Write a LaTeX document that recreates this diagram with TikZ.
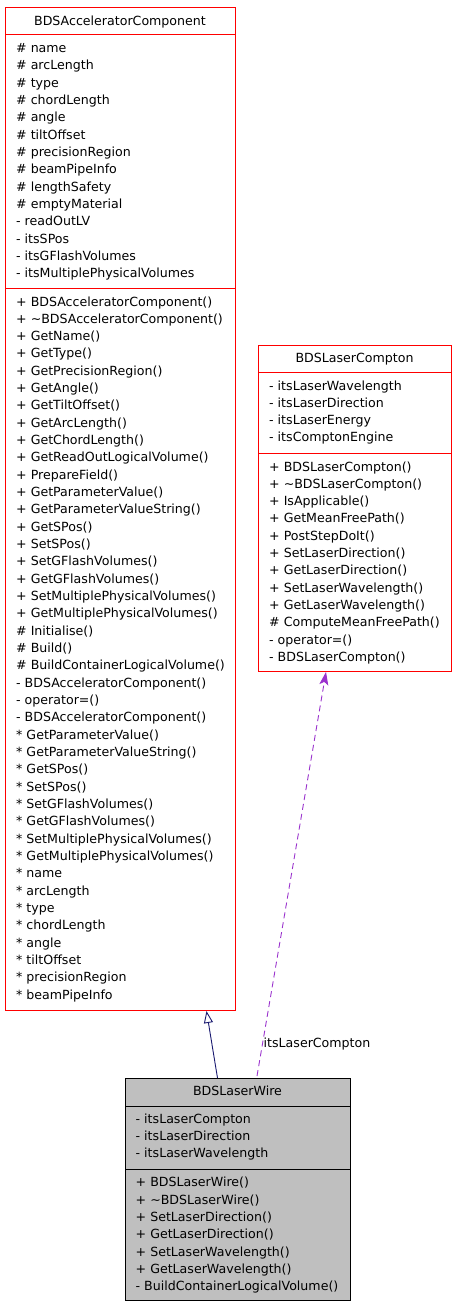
\documentclass[tikz,border=0pt]{standalone}
\usepackage{fontspec}
\setmainfont{DejaVu Sans}
\usetikzlibrary{arrows.meta,calc}
\definecolor{edgeblue}{HTML}{191970}
\definecolor{edgepurple}{HTML}{9A32CD}
\definecolor{wiregray}{HTML}{BFBFBF}
\begin{document}
\begin{tikzpicture}[x=1pt,y=-1pt,
  every node/.style={font=\fontsize{12.6}{15}\selectfont},
  member/.style={anchor=base west, inner sep=0pt},
  classtitle/.style={anchor=base, inner sep=0pt},
  redbox/.style={draw=red, line width=1pt, anchor=north west, inner sep=0pt},
  graybox/.style={draw=black, fill=wiregray, line width=1pt, anchor=north west, inner sep=0pt},
  redsep/.style={draw=red, line width=1pt},
  blacksep/.style={draw=black, line width=1pt},
  inherit/.style={draw=edgeblue, line width=0.9pt, -{Triangle[open,length=12pt,width=9pt]}},
  usage/.style={draw=edgepurple, line width=0.9pt, dash pattern=on 6pt off 4pt, -{Stealth[length=13pt,width=9pt,inset=3pt]}}
]
\useasboundingbox (0,0) rectangle (456,1307);

% ---------- BDSAcceleratorComponent ----------
\node[redbox, minimum width=230pt, minimum height=1003pt] (acc) at (5,7) {};
\draw[redsep] (5,34) -- (235,34);
\draw[redsep] (5,288) -- (235,288);
\node[classtitle] (acct) at (120,25) {BDSAcceleratorComponent};
\foreach \t [count=\i from 0] in {\# name,\# arcLength,\# type,\# chordLength,\# angle,\# tiltOffset,\# precisionRegion,\# beamPipeInfo,\# lengthSafety,\# emptyMaterial,- readOutLV,- itsSPos,- itsGFlashVolumes,- itsMultiplePhysicalVolumes}
  \node[member] (acca\i) at (16,{52.5+17.33*\i}) {\t};
\foreach \t [count=\i from 0] in {+ BDSAcceleratorComponent(),+ \textasciitilde BDSAcceleratorComponent(),+ GetName(),+ GetType(),+ GetPrecisionRegion(),+ GetAngle(),+ GetTiltOffset(),+ GetArcLength(),+ GetChordLength(),+ GetReadOutLogicalVolume(),+ PrepareField(),+ GetParameterValue(),+ GetParameterValueString(),+ GetSPos(),+ SetSPos(),+ SetGFlashVolumes(),+ GetGFlashVolumes(),+ SetMultiplePhysicalVolumes(),+ GetMultiplePhysicalVolumes(),\# Initialise(),\# Build(),\# BuildContainerLogicalVolume(),- BDSAcceleratorComponent(),- operator=(),- BDSAcceleratorComponent(),* GetParameterValue(),* GetParameterValueString(),* GetSPos(),* SetSPos(),* SetGFlashVolumes(),* GetGFlashVolumes(),* SetMultiplePhysicalVolumes(),* GetMultiplePhysicalVolumes(),* name,* arcLength,* type,* chordLength,* angle,* tiltOffset,* precisionRegion,* beamPipeInfo}
  \node[member] (accm\i) at (16,{306+17.33*\i}) {\t};

% ---------- BDSLaserCompton ----------
\node[redbox, minimum width=193pt, minimum height=326pt] (laser) at (258,345) {};
\draw[redsep] (258,372) -- (451,372);
\draw[redsep] (258,453) -- (451,453);
\node[classtitle] (lasert) at (354.5,362.7) {BDSLaserCompton};
\foreach \t [count=\i from 0] in {- itsLaserWavelength,- itsLaserDirection,- itsLaserEnergy,- itsComptonEngine}
  \node[member] (lasera\i) at (269,{390+17.33*\i}) {\t};
\foreach \t [count=\i from 0] in {+ BDSLaserCompton(),+ \textasciitilde BDSLaserCompton(),+ IsApplicable(),+ GetMeanFreePath(),+ PostStepDoIt(),+ SetLaserDirection(),+ GetLaserDirection(),+ SetLaserWavelength(),+ GetLaserWavelength(),\# ComputeMeanFreePath(),- operator=(),- BDSLaserCompton()}
  \node[member] (laserm\i) at (269,{471+17.33*\i}) {\t};

% ---------- BDSLaserWire ----------
\node[graybox, minimum width=225pt, minimum height=222pt] (wire) at (125,1078) {};
\draw[blacksep] (125,1106) -- (350,1106);
\draw[blacksep] (125,1169) -- (350,1169);
\node[classtitle] (wiret) at (237.5,1095.7) {BDSLaserWire};
\foreach \t [count=\i from 0] in {- itsLaserCompton,- itsLaserDirection,- itsLaserWavelength}
  \node[member] (wirea\i) at (135.5,{1123.3+17.33*\i}) {\t};
\foreach \t [count=\i from 0] in {+ BDSLaserWire(),+ \textasciitilde BDSLaserWire(),+ SetLaserDirection(),+ GetLaserDirection(),+ SetLaserWavelength(),+ GetLaserWavelength(),- BuildContainerLogicalVolume()}
  \node[member] (wirem\i) at (135.5,{1186.7+17.33*\i}) {\t};

% ---------- connectors ----------
\draw[inherit] ($(wire.north west)+(92.5,0)$) -- ($(acc.south west)+(201.5,0)$);
\draw[usage] ($(wire.north west)+(132,-2)$) -- ($(laser.south west)+(68,0)$);
\node[member] (lbl) at (263.5,1047) {itsLaserCompton};
\end{tikzpicture}
\end{document}
